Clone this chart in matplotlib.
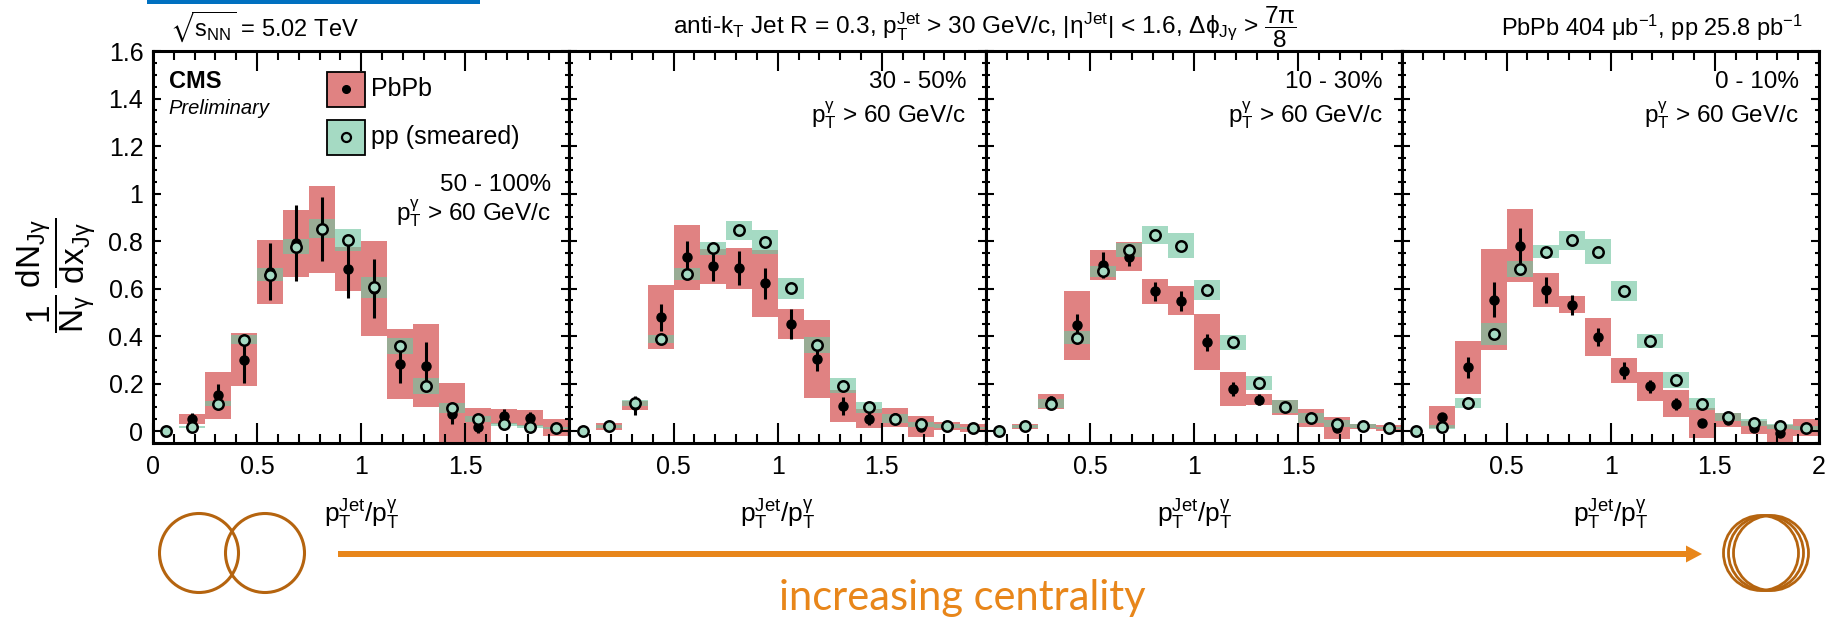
import numpy as np
import matplotlib
matplotlib.use('Agg')
import matplotlib.pyplot as plt
from matplotlib.patches import Rectangle, Circle, FancyArrow
from matplotlib.ticker import MultipleLocator

plt.rcParams['font.family'] = ['Liberation Sans', 'DejaVu Sans']
plt.rcParams['mathtext.fontset'] = 'custom'
plt.rcParams['mathtext.rm'] = 'Liberation Sans'
plt.rcParams['mathtext.it'] = 'Liberation Sans'
plt.rcParams['mathtext.bf'] = 'Liberation Sans:bold'
plt.rcParams['mathtext.sf'] = 'Liberation Sans'
plt.rcParams['mathtext.fallback'] = 'stixsans'

# x_Jg bins (width 0.125 from 0 to 2)
x_centers = [0.0625, 0.1875, 0.3125, 0.4375, 0.5625, 0.6875, 0.8125, 0.9375,
             1.0625, 1.1875, 1.3125, 1.4375, 1.5625, 1.6875, 1.8125, 1.9375]
bin_width = 0.125

centralities = ['50 - 100%', '30 - 50%', '10 - 30%', '0 - 10%']

# PbPb values, stat. errors, syst. errors
pbpb_50_100 = [np.nan, 0.052, 0.150, 0.301, 0.670, 0.790, 0.850, 0.682, 0.600, 0.283, 0.276, 0.073, 0.018, 0.063, 0.055, 0.014]
stat_50_100 = [0, 0.025, 0.050, 0.098, 0.120, 0.160, 0.135, 0.120, 0.125, 0.082, 0.100, 0.045, 0.025, 0.030, 0.025, 0.010]
sys_50_100 = [0, 0.020, 0.100, 0.112, 0.135, 0.140, 0.183, 0.091, 0.200, 0.147, 0.175, 0.128, 0.079, 0.032, 0.035, 0.035]

pbpb_30_50 = [0, 0.020, 0.108, 0.479, 0.731, 0.693, 0.685, 0.622, 0.451, 0.304, 0.105, 0.053, 0.056, 0.018, 0.021, 0.014]
stat_30_50 = [0, 0.008, 0.040, 0.056, 0.070, 0.062, 0.072, 0.065, 0.063, 0.052, 0.038, 0.028, 0.020, 0.015, 0.010, 0.008]
sys_30_50 = [0, 0.016, 0.019, 0.135, 0.137, 0.072, 0.086, 0.142, 0.062, 0.165, 0.067, 0.039, 0.040, 0.044, 0.017, 0.016]

pbpb_10_30 = [0, 0.021, 0.126, 0.445, 0.700, 0.735, 0.588, 0.549, 0.374, 0.178, 0.133, 0.100, 0.056, 0.014, 0.021, 0.014]
stat_10_30 = [0, 0.008, 0.020, 0.046, 0.056, 0.042, 0.040, 0.042, 0.035, 0.030, 0.024, 0.015, 0.015, 0.012, 0.008, 0.006]
sys_10_30 = [0, 0.011, 0.032, 0.145, 0.063, 0.063, 0.054, 0.060, 0.117, 0.072, 0.025, 0.032, 0.039, 0.046, 0.011, 0.013]

pbpb_0_10 = [0, 0.060, 0.269, 0.553, 0.780, 0.595, 0.532, 0.396, 0.255, 0.189, 0.115, 0.035, 0.046, 0.014, -0.010, 0.014]
stat_0_10 = [0, 0.015, 0.044, 0.073, 0.074, 0.054, 0.042, 0.039, 0.035, 0.028, 0.025, 0.010, 0.010, 0.010, 0.010, 0.006]
sys_0_10 = [0, 0.046, 0.112, 0.212, 0.153, 0.072, 0.035, 0.081, 0.051, 0.061, 0.057, 0.063, 0.030, 0.028, 0.035, 0.035]

# smeared pp reference, values and syst. errors
pp_50_100 = [0, 0.017, 0.116, 0.385, 0.658, 0.777, 0.852, 0.804, 0.605, 0.358, 0.189, 0.098, 0.052, 0.028, 0.018, 0.014]
ppsys_50_100 = [0, 0.003, 0.011, 0.019, 0.028, 0.030, 0.040, 0.047, 0.045, 0.034, 0.033, 0.020, 0.013, 0.008, 0.006, 0.005]

pp_30_50 = [0, 0.020, 0.119, 0.388, 0.662, 0.770, 0.845, 0.796, 0.602, 0.363, 0.192, 0.101, 0.052, 0.028, 0.021, 0.014]
ppsys_30_50 = [0, 0.005, 0.012, 0.017, 0.025, 0.028, 0.040, 0.050, 0.044, 0.034, 0.030, 0.023, 0.019, 0.010, 0.007, 0.005]

pp_10_30 = [0, 0.021, 0.116, 0.394, 0.672, 0.763, 0.826, 0.780, 0.595, 0.374, 0.203, 0.102, 0.056, 0.032, 0.021, 0.014]
ppsys_10_30 = [0, 0.006, 0.018, 0.026, 0.025, 0.030, 0.039, 0.053, 0.041, 0.032, 0.031, 0.027, 0.020, 0.014, 0.009, 0.005]

pp_0_10 = [0, 0.018, 0.119, 0.409, 0.682, 0.756, 0.803, 0.756, 0.588, 0.378, 0.214, 0.116, 0.060, 0.035, 0.021, 0.014]
ppsys_0_10 = [0, 0.007, 0.021, 0.046, 0.033, 0.026, 0.040, 0.052, 0.042, 0.030, 0.033, 0.025, 0.018, 0.014, 0.011, 0.008]

pbpb_all = [pbpb_50_100, pbpb_30_50, pbpb_10_30, pbpb_0_10]
stat_all = [stat_50_100, stat_30_50, stat_10_30, stat_0_10]
sys_all = [sys_50_100, sys_30_50, sys_10_30, sys_0_10]
pp_all = [pp_50_100, pp_30_50, pp_10_30, pp_0_10]
ppsys_all = [ppsys_50_100, ppsys_30_50, ppsys_10_30, ppsys_0_10]

xtick_labels = [['0', '0.5', '1', '1.5', ''],
                ['', '0.5', '1', '1.5', ''],
                ['', '0.5', '1', '1.5', ''],
                ['', '0.5', '1', '1.5', '2']]
ytick_labels = ['0', '0.2', '0.4', '0.6', '0.8', '1', '1.2', '1.4', '1.6']

red = '#E08282'
green = '#72C5A1'
green_light = '#A5DAC3'
orange = '#E8861A'
brown = '#B5640F'

W, H = 1840, 617
fig = plt.figure(figsize=(W / 100, H / 100), dpi=100)

left0, panel_w = 153, 416.5
bottom, top = 443, 51

axes = []
for k in range(4):
    ax = fig.add_axes([(left0 + k * panel_w) / W, (H - bottom) / H,
                       panel_w / W, (bottom - top) / H])
    axes.append(ax)
    x = np.array(x_centers)
    v = np.array(pbpb_all[k], dtype=float)
    s = np.array(sys_all[k])
    p = np.array(pp_all[k])
    ps = np.array(ppsys_all[k])
    ok = ~np.isnan(v)

    ax.bar(x[ok], 2 * s[ok], bottom=v[ok] - s[ok], width=bin_width,
           color=red, linewidth=0, zorder=1)
    ax.bar(x, 2 * ps, bottom=p - ps, width=bin_width,
           color=green, alpha=0.64, linewidth=0, zorder=2)
    ax.errorbar(x[ok], v[ok], yerr=np.array(stat_all[k])[ok], fmt='o',
                color='black', ms=6.5, elinewidth=2.2, capsize=0, zorder=3)
    ax.plot(x, p, 'o', mfc=green_light, mec='black', ms=7.5, mew=1.8,
            zorder=4, clip_on=False)

    ax.set_xlim(0, 2)
    ax.set_ylim(-0.05, 1.6)
    ax.set_xticks([0, 0.5, 1, 1.5, 2])
    ax.set_xticklabels(xtick_labels[k])
    ax.xaxis.set_minor_locator(MultipleLocator(0.1))
    ax.set_yticks([0, 0.2, 0.4, 0.6, 0.8, 1.0, 1.2, 1.4, 1.6])
    ax.set_yticklabels(ytick_labels if k == 0 else [])
    ax.yaxis.set_minor_locator(MultipleLocator(0.05))
    ax.tick_params(axis='x', which='major', direction='in', length=14.4, width=1.5,
                   top=True, pad=9, labelsize=18)
    ax.tick_params(axis='x', which='minor', direction='in', length=6.5, width=1.5, top=True)
    ax.tick_params(axis='y', which='major', direction='in', length=5.8, width=1.5,
                   right=True, pad=7, labelsize=18)
    ax.tick_params(axis='y', which='minor', direction='in', length=2.9, width=1.5, right=True)
    for sp in ax.spines.values():
        sp.set_linewidth(2.2)

    ax.text(0.5, -0.184, r'p$_{\mathrm{T}}^{\mathrm{Jet}}$/p$_{\mathrm{T}}^{\gamma}$',
            transform=ax.transAxes, ha='center', va='center', fontsize=19)

# centrality and photon pT labels
ax = axes[0]
ax.text(0.956, 0.658, centralities[0], transform=ax.transAxes, ha='right', va='center', fontsize=17.5)
ax.text(0.956, 0.587, r'p$_{\mathrm{T}}^{\gamma}$ > 60 GeV/c', transform=ax.transAxes,
        ha='right', va='center', fontsize=17.5)
for k in range(1, 4):
    ax = axes[k]
    ax.text(0.952, 0.921, centralities[k], transform=ax.transAxes, ha='right', va='center', fontsize=17.5)
    ax.text(0.952, 0.837, r'p$_{\mathrm{T}}^{\gamma}$ > 60 GeV/c', transform=ax.transAxes,
            ha='right', va='center', fontsize=17.5)

# CMS label and legend
ax = axes[0]
ax.text(0.038, 0.905, 'CMS', transform=ax.transAxes, fontsize=17, fontweight='bold')
ax.text(0.038, 0.84, 'Preliminary', transform=ax.transAxes, fontsize=14.5, style='italic')
ax.add_patch(Rectangle((0.418, 0.857), 0.092, 0.09, transform=ax.transAxes,
                       facecolor=red, edgecolor='black', lw=1.3, zorder=5))
ax.add_patch(Rectangle((0.418, 0.735), 0.092, 0.09, transform=ax.transAxes,
                       facecolor=green_light, edgecolor='black', lw=1.3, zorder=5))
ax.plot([0.464], [0.902], 'o', color='black', ms=5.5, transform=ax.transAxes, zorder=6, clip_on=False)
ax.plot([0.464], [0.780], 'o', mfc=green_light, mec='black', ms=6.5, mew=1.6,
        transform=ax.transAxes, zorder=6, clip_on=False)
ax.text(0.524, 0.902, 'PbPb', transform=ax.transAxes, va='center', fontsize=18)
ax.text(0.524, 0.780, 'pp (smeared)', transform=ax.transAxes, va='center', fontsize=18)

# overlay in pixel units for headers and annotations
ov = fig.add_axes([0, 0, 1, 1], zorder=10)
ov.set_xlim(0, W)
ov.set_ylim(H, 0)
ov.axis('off')

ov.add_patch(Rectangle((147, 0), 333, 3.5, color='#0070C0', lw=0))
ov.text(170, 36, r'$\sqrt{s_{\mathrm{NN}}}$ = 5.02 TeV', fontsize=17, va='baseline')
ov.text(985, 34, r'anti-k$_{\mathrm{T}}$ Jet R = 0.3, p$_{\mathrm{T}}^{\mathrm{Jet}}$ > 30 GeV/c, '
        r'$|\eta^{\mathrm{Jet}}|$ < 1.6, $\Delta\phi_{\mathrm{J}\gamma}$ > $\dfrac{7\pi}{8}$',
        fontsize=17.6, ha='center', va='baseline')
ov.text(1803, 36, r'PbPb 404 $\mu$b$^{-1}$, pp 25.8 pb$^{-1}$', fontsize=17,
        ha='right', va='baseline')

ov.text(56, 275, r'$\dfrac{1}{\mathrm{N}_{\gamma}}\,\dfrac{\mathrm{dN}_{\mathrm{J}\gamma}}{\mathrm{dx}_{\mathrm{J}\gamma}}$',
        rotation=90, ha='center', va='center', fontsize=24)

# collision overlap sketches and centrality arrow
for cx in (199, 265):
    ov.add_patch(Circle((cx, 553), 39.5, fill=False, ec=brown, lw=2.2))
for cx in (1761, 1766, 1771):
    ov.add_patch(Circle((cx, 553), 37.5, fill=False, ec=brown, lw=2.0))
ov.add_patch(FancyArrow(338, 554, 1364, 0, width=6, head_width=17, head_length=16,
                        length_includes_head=True, color=orange, lw=0))
ov.text(962, 598, 'increasing centrality', color=orange, fontsize=30,
        family='Lato', ha='center', va='center')

fig.savefig('out.png', dpi=100)
